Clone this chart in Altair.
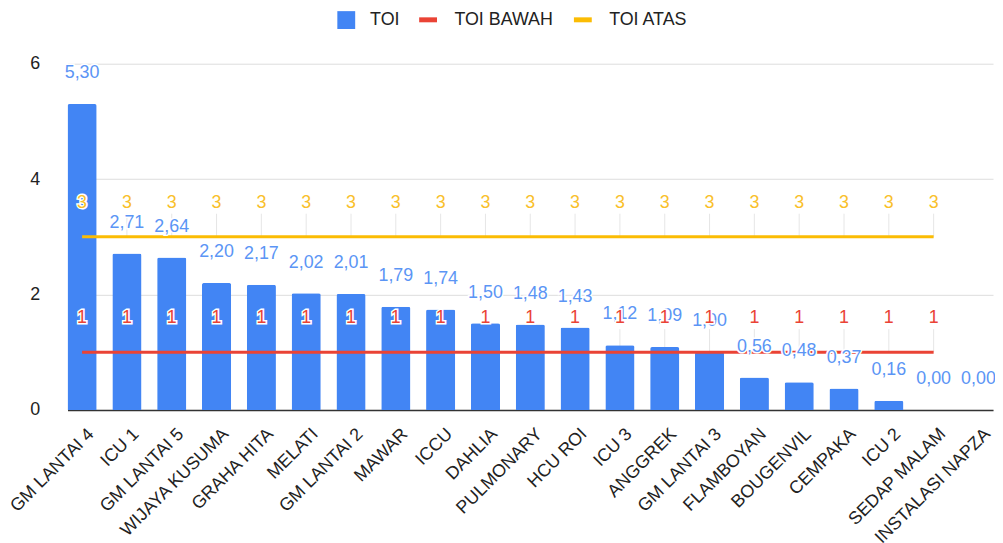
import altair as alt
import pandas as pd

categories = ["GM LANTAI 4", "ICU 1", "GM LANTAI 5", "WIJAYA KUSUMA", "GRAHA HITA",
              "MELATI", "GM LANTAI 2", "MAWAR", "ICCU", "DAHLIA", "PULMONARY",
              "HCU ROI", "ICU 3", "ANGGREK", "GM LANTAI 3", "FLAMBOYAN",
              "BOUGENVIL", "CEMPAKA", "ICU 2", "SEDAP MALAM", "INSTALASI NAPZA"]
toi = [5.30, 2.71, 2.64, 2.20, 2.17, 2.02, 2.01, 1.79, 1.74, 1.50, 1.48,
       1.43, 1.12, 1.09, 1.00, 0.56, 0.48, 0.37, 0.16, 0.00, 0.00]
toi_bawah = [1, 1, 1, 1, 1, 1, 1, 1, 1, 1, 1, 1, 1, 1, 1, 1, 1, 1, 1, 1, None]
toi_atas = [3, 3, 3, 3, 3, 3, 3, 3, 3, 3, 3, 3, 3, 3, 3, 3, 3, 3, 3, 3, None]

BLUE = "#4285F4"
RED = "#EA4335"
YELLOW = "#FBBC04"
FONT = "Liberation Sans"

bars_df = pd.DataFrame({"unit": categories, "toi": toi, "bar_s": ["TOI"] * len(categories)})
rows = []
for c, b, a in zip(categories, toi_bawah, toi_atas):
    if b is not None:
        rows.append({"unit": c, "series": "TOI BAWAH", "value": b})
    if a is not None:
        rows.append({"unit": c, "series": "TOI ATAS", "value": a})
lines_df = pd.DataFrame(rows)

xscale = alt.Scale(domain=categories, range=[16, 949], paddingInner=0.35, paddingOuter=0, round=False)
yscale = alt.Scale(domain=[0, 6], nice=False)

x_axis = alt.Axis(title=None, labelAngle=-45, labelAlign="right", labelBaseline="top",
                  labelPadding=15, labelOffset=3, labelFontSize=18, labelFont=FONT,
                  labelColor="#222222", ticks=False, grid=False, domainColor="#333333",
                  domainWidth=1.5, labelLimit=400)
y_axis = alt.Axis(title=None, values=[0, 2, 4, 6], domain=False, ticks=False,
                  gridColor="#dddddd", labelFontSize=18, labelFont=FONT,
                  labelColor="#222222", labelPadding=12)

X = alt.X("unit:N", sort=categories, scale=xscale, axis=x_axis)


def Yq(field):
    return alt.Y(field, scale=yscale, axis=y_axis)


leaders = alt.Chart(lines_df).transform_calculate(
    top="datum.value + 0.4"
).mark_rule(color="#e6e6e6", strokeWidth=1).encode(
    x=X, y=Yq("value:Q"), y2="top:Q"
)

bars = alt.Chart(bars_df).mark_bar(cornerRadiusTopLeft=2, cornerRadiusTopRight=2).encode(
    x=X,
    y=Yq("toi:Q"),
    fill=alt.Fill("bar_s:N", scale=alt.Scale(domain=["TOI"], range=[BLUE]),
                  legend=alt.Legend(title=None, orient="none", legendX=288, legendY=-53,
                                    symbolType="square", symbolSize=324, labelOffset=15,
                                    labelFontSize=18, labelFont=FONT, labelColor="#222222",
                                    padding=0, symbolStrokeWidth=0)),
)

lines = alt.Chart(lines_df).mark_line(strokeWidth=3).encode(
    x=X,
    y=Yq("value:Q"),
    stroke=alt.Stroke("series:N", scale=alt.Scale(domain=["TOI BAWAH", "TOI ATAS"], range=[RED, YELLOW]),
                      legend=alt.Legend(title=None, orient="none", legendX=368, legendY=-56,
                                        direction="horizontal", symbolType="stroke",
                                        symbolStrokeWidth=5, symbolSize=324, labelOffset=15,
                                        columnPadding=10, labelFontSize=18, labelFont=FONT,
                                        labelColor="#222222", padding=0)),
    detail="series:N",
)

label_base = alt.Chart(bars_df).transform_calculate(
    lbl="replace(format(datum.toi, '.2f'), '.', ',')"
)
bar_halo = label_base.mark_text(dy=-31, fontSize=18, font=FONT, baseline="middle",
                                stroke="white", strokeWidth=3, fill="white").encode(
    x=X, y=Yq("toi:Q"), text="lbl:N")
bar_lbl = label_base.mark_text(dy=-31, fontSize=18, font=FONT, baseline="middle",
                               fill="#5b95f5").encode(
    x=X, y=Yq("toi:Q"), text="lbl:N")

line_halo = alt.Chart(lines_df).mark_text(dy=-34, fontSize=18, font=FONT, baseline="middle",
                                          stroke="white", strokeWidth=3, fill="white").encode(
    x=X, y=Yq("value:Q"), text=alt.Text("value:Q", format="d"))
line_lbl = alt.Chart(lines_df).mark_text(dy=-34, fontSize=18, font=FONT, baseline="middle").encode(
    x=X, y=Yq("value:Q"), text=alt.Text("value:Q", format="d"),
    color=alt.Color("series:N", scale=alt.Scale(domain=["TOI BAWAH", "TOI ATAS"], range=[RED, "#F9BF2A"]),
                    legend=None))

chart = alt.layer(leaders, bars, lines, bar_halo, bar_lbl, line_halo, line_lbl).resolve_scale(
    color="independent"
).properties(
    width=951, height=349,
    autosize=alt.AutoSizeParams(type="none"),
    padding={"left": 44, "top": 54, "right": 0, "bottom": 132},
    background="white",
).configure_view(stroke=None)

chart.save("out.html", embed_options={"renderer": "svg", "actions": False})
